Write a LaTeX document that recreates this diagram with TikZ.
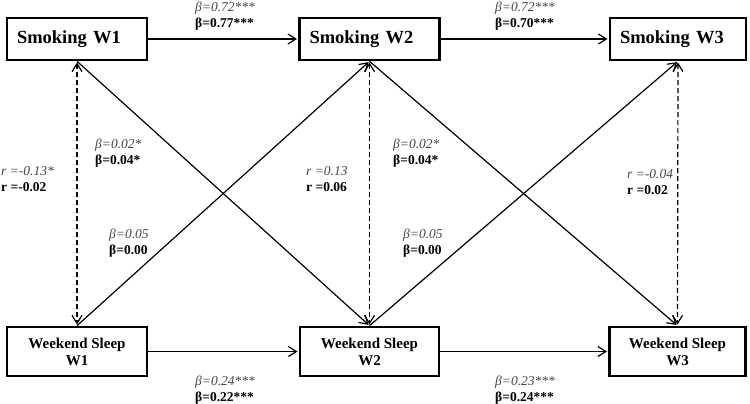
\documentclass[tikz,border=0pt]{standalone}
\usepackage{fontspec}
\setmainfont{Liberation Serif}
\usetikzlibrary{arrows.meta}
\definecolor{labgray}{RGB}{70,70,70}
\begin{document}
\begin{tikzpicture}[x=1pt,y=-1pt,
  smokebox/.style={draw, line width=2.6pt, minimum height=42pt, text width=120pt, inner xsep=10pt, inner ysep=0pt, align=left, font=\fontsize{18.5}{22}\selectfont\bfseries},
  sleepbox/.style={draw, line width=2.6pt, minimum height=49pt, minimum width=140pt, inner sep=0pt, align=center, font=\fontsize{15}{17}\selectfont\bfseries},
  conn/.style={line width=1.2pt, shorten >=1.2pt, -{Straight Barb[length=8pt,width=10pt]}},
  corr/.style={line width=1.2pt, dash pattern=on 5pt off 3pt, shorten >=1.2pt, shorten <=1.2pt, {Straight Barb[length=8pt,width=10pt]}-{Straight Barb[length=8pt,width=10pt]}},
  lab/.style={anchor=west, inner sep=0pt, align=left, font=\fontsize{13.5}{16}\selectfont}
]
\useasboundingbox (0,0) rectangle (750,404);

% boxes
\node[smokebox] (s1) at (77,39) {Smoking W1};
\node[smokebox] (s2) at (369.5,39) {Smoking W2};
\node[smokebox, text width=116pt] (s3) at (678,39) {Smoking W3};
\node[sleepbox] (w1) at (77,351.5) {Weekend Sleep\\W1};
\node[sleepbox, minimum width=139pt] (w2) at (369.5,351.5) {Weekend Sleep\\W2};
\node[sleepbox, minimum width=136pt] (w3) at (677.5,351.5) {Weekend Sleep\\W3};

% autoregressive paths
\draw[conn] (s1.east) -- (s2.west);
\draw[conn] (s2.east) -- (s3.west);
\draw[conn] (w1.east) -- (w2.west);
\draw[conn] (w2.east) -- (w3.west);

% correlations
\draw[corr] (s1.south) -- (w1.north);
\draw[corr] (s2.south) -- (w2.north);
\draw[corr] (s3.south) -- (w3.north);

% cross-lagged paths
\draw[conn] (s1.south) -- (w2.north);
\draw[conn] (w1.north) -- (s2.south);
\draw[conn] (s2.south) -- (w3.north);
\draw[conn] (w2.north) -- (s3.south);

% labels
\node[lab] (lt1) at (195,16) {{\itshape\color{labgray}β=0.72***}\\{\bfseries β=0.77***}};
\node[lab] (lt2) at (495,16) {{\itshape\color{labgray}β=0.72***}\\{\bfseries β=0.70***}};
\node[lab] (lb1) at (195,390) {{\itshape\color{labgray}β=0.24***}\\{\bfseries β=0.22***}};
\node[lab] (lb2) at (495,390) {{\itshape\color{labgray}β=0.23***}\\{\bfseries β=0.24***}};
\node[lab] (r1) at (1,179) {{\itshape\color{labgray}r =-0.13*}\\{\bfseries r =-0.02}};
\node[lab] (bx1) at (95,153) {{\itshape\color{labgray}β=0.02*}\\{\bfseries β=0.04*}};
\node[lab] (by1) at (109,243) {{\itshape\color{labgray}β=0.05}\\{\bfseries β=0.00}};
\node[lab] (r2) at (306,179.5) {{\itshape\color{labgray}r =0.13}\\{\bfseries r =0.06}};
\node[lab] (bx2) at (393,153) {{\itshape\color{labgray}β=0.02*}\\{\bfseries β=0.04*}};
\node[lab] (by2) at (403,243) {{\itshape\color{labgray}β=0.05}\\{\bfseries β=0.00}};
\node[lab] (r3) at (627,182) {{\itshape\color{labgray}r =-0.04}\\{\bfseries r =0.02}};
\end{tikzpicture}
\end{document}
